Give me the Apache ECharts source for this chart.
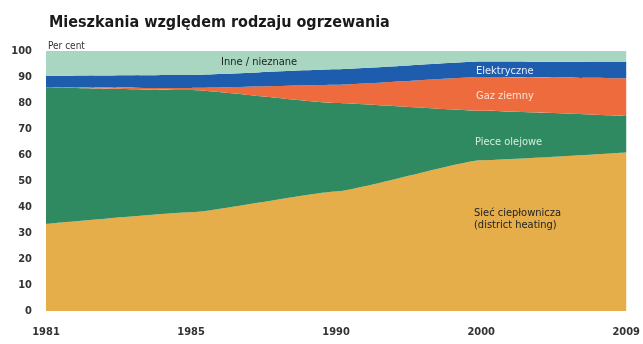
<!DOCTYPE html>
<html>
<head>
<meta charset="utf-8">
<script src="https://cdn.jsdelivr.net/npm/echarts@6/dist/echarts.min.js"></script>
<style>
html,body{margin:0;padding:0;background:#fff;}
#chart{width:643px;height:344px;}
</style>
</head>
<body>
<div id="chart"></div>
<script>
// Data (per cent of dwellings by heating type)
const years = ['1981', '1985', '1990', '2000', '2009'];
const districtHeating = [33.5, 38, 46, 58, 61];
const oilStoves = [52.5, 47, 34, 19, 14];
const naturalGas = [0, 0.8, 7, 13, 14.5];
const electric = [4.5, 5, 6, 6, 6.3];
const other = [9.5, 9.2, 7, 4, 4.2];
const yTicks = [0, 10, 20, 30, 40, 50, 60, 70, 80, 90, 100];

const FONT = '"Liberation Sans Narrow", "DejaVu Sans Condensed", "Arial Narrow", sans-serif';

const chart = echarts.init(document.getElementById('chart'));

function areaSeries(name, data, color) {
  return {
    name: name,
    type: 'line',
    stack: 'total',
    data: data,
    smooth: 0.12,
    smoothMonotone: 'x',
    symbol: 'none',
    lineStyle: { width: 0 },
    areaStyle: { color: color, opacity: 1 },
    emphasis: { disabled: true }
  };
}

chart.setOption({
  animation: false,
  backgroundColor: '#ffffff',
  title: {
    text: 'Mieszkania względem rodzaju ogrzewania',
    left: 44,
    top: 10,
    textStyle: { fontFamily: FONT, fontSize: 16, fontWeight: 'bold', color: '#1a1a1a' }
  },
  grid: { left: 46, right: 13, top: 51, bottom: 33, containLabel: false },
  xAxis: {
    type: 'category',
    data: years,
    boundaryGap: false,
    axisLine: { show: false },
    axisTick: { show: false },
    axisLabel: { margin: 16, fontFamily: FONT, fontSize: 11, fontWeight: 'bold', color: '#333' }
  },
  yAxis: {
    type: 'value',
    min: 0,
    max: 100,
    interval: 10,
    splitLine: { show: false },
    axisLine: { show: false },
    axisTick: { show: false },
    axisLabel: {
      margin: 14, fontFamily: FONT, fontSize: 11, fontWeight: 'bold', color: '#333',
      formatter: function (v) { return yTicks.indexOf(v) >= 0 ? String(v) : ''; }
    }
  },
  series: [
    areaSeries('Sieć ciepłownicza', districtHeating, '#E5AE4A'),
    areaSeries('Piece olejowe', oilStoves, '#2F8A61'),
    areaSeries('Gaz ziemny', naturalGas, '#EE6B3D'),
    areaSeries('Elektryczne', electric, '#1E5DAD'),
    areaSeries('Inne / nieznane', other, '#A8D6C0')
  ],
  graphic: [
    { type: 'text', z: 100, left: 48, top: 41, style: { text: 'Per cent', fontFamily: FONT, fontSize: 10, fill: '#333' } },
    { type: 'text', z: 100, left: 221, top: 57, style: { text: 'Inne / nieznane', fontFamily: FONT, fontSize: 11, fill: '#222' } },
    { type: 'text', z: 100, left: 476, top: 66, style: { text: 'Elektryczne', fontFamily: FONT, fontSize: 11, fill: '#e8eef8' } },
    { type: 'text', z: 100, left: 476, top: 91, style: { text: 'Gaz ziemny', fontFamily: FONT, fontSize: 11, fill: '#fbe3d6' } },
    { type: 'text', z: 100, left: 475, top: 137, style: { text: 'Piece olejowe', fontFamily: FONT, fontSize: 11, fill: '#d6ece0' } },
    { type: 'text', z: 100, left: 474, top: 207, style: { text: 'Sieć ciepłownicza\n(district heating)', fontFamily: FONT, fontSize: 11, lineHeight: 12, fill: '#222' } }
  ]
});
</script>
</body>
</html>
